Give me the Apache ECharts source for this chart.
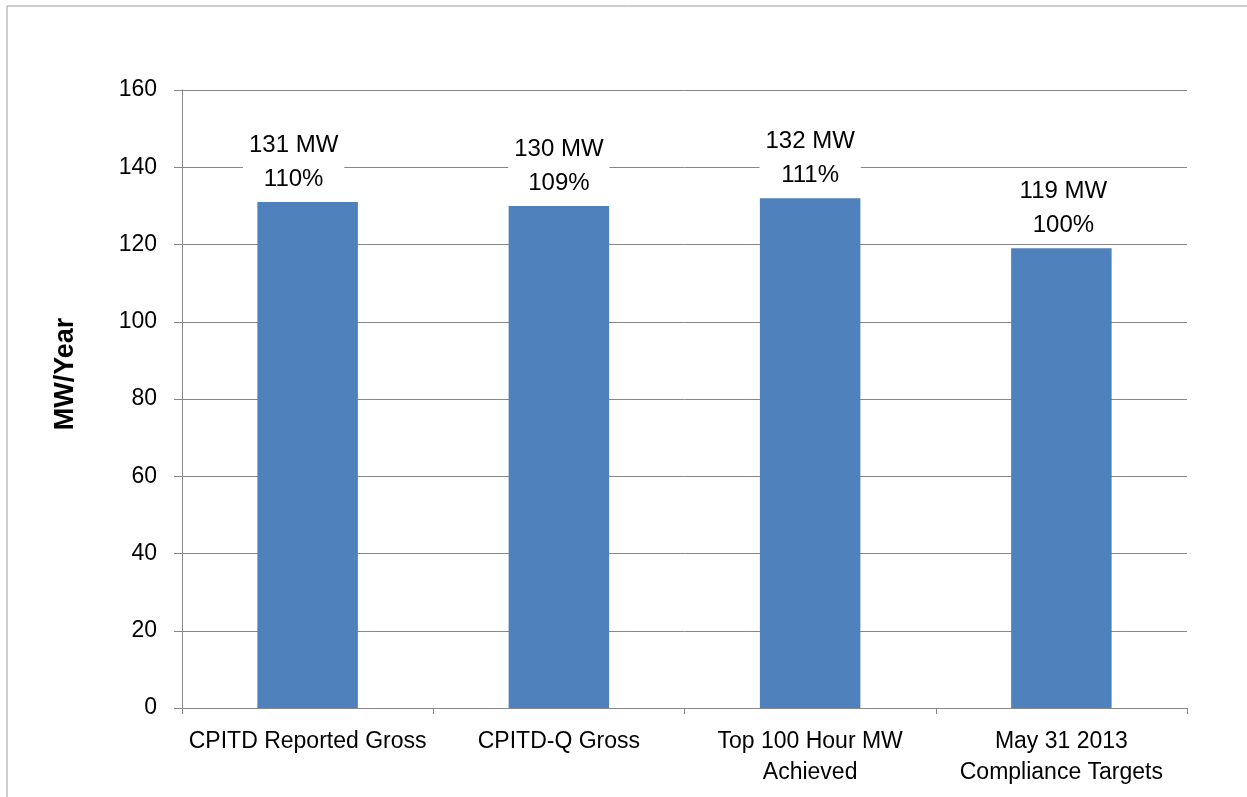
<!DOCTYPE html>
<html>
<head>
<meta charset="utf-8">
<script src="https://cdn.jsdelivr.net/npm/echarts@6/dist/echarts.min.js"></script>
<style>
html,body{margin:0;padding:0;background:#fff;}
#chart{width:1247px;height:797px;}
</style>
</head>
<body>
<div id="chart"></div>
<script>
const categories = ['CPITD Reported Gross', 'CPITD-Q Gross', 'Top 100 Hour MW\nAchieved', 'May 31 2013\nCompliance Targets'];
const valuesMW = [131, 130, 132, 119];
const percentLabels = ['110%', '109%', '111%', '100%'];
const yTicks = { min: 0, max: 160, interval: 20 };
const yTitle = 'MW/Year';

const FONT = '"Liberation Sans", Arial, sans-serif';
const labelOffsets = [[-14, 0], [0, 0], [0, 0], [2, 0]];

const chart = echarts.init(document.getElementById('chart'));
chart.setOption({
  animation: false,
  backgroundColor: '#fff',
  textStyle: { fontFamily: FONT },
  grid: { left: 182, right: 60, top: 90, bottom: 89, containLabel: false },
  xAxis: {
    type: 'category',
    data: categories,
    axisLine: { lineStyle: { color: '#878787', width: 1 } },
    axisTick: { show: true, length: 6, lineStyle: { color: '#878787' } },
    axisLabel: { color: '#000', fontSize: 23, lineHeight: 31, margin: 18, fontFamily: FONT, interval: 0 }
  },
  yAxis: {
    type: 'value',
    min: yTicks.min, max: yTicks.max, interval: yTicks.interval,
    axisLine: { show: true, lineStyle: { color: '#878787', width: 1 } },
    axisTick: { show: true, length: 8, lineStyle: { color: '#878787' } },
    axisLabel: { color: '#000', fontSize: 23, margin: 25, fontFamily: FONT },
    splitLine: { show: true, lineStyle: { color: '#878787', width: 1 } }
  },
  graphic: [
    { type: 'rect', shape: { x: 7, y: 6, width: 1400, height: 1000 }, style: { fill: 'none', stroke: '#9a9a9a', lineWidth: 1 }, silent: true, z: -10 },
    { type: 'text', x: 66, y: 374, rotation: Math.PI / 2,
      style: { text: yTitle, font: 'bold 27px ' + FONT, fill: '#000', textAlign: 'center', textVerticalAlign: 'middle' } }
  ],
  series: [{
    type: 'bar',
    data: valuesMW.map((v, i) => ({
      value: v,
      label: { offset: labelOffsets[i] }
    })),
    barWidth: '40%',
    itemStyle: { color: '#4F81BD' },
    label: {
      show: true,
      position: 'top',
      distance: 6,
      color: '#000',
      fontSize: 24,
      lineHeight: 34,
      fontFamily: FONT,
      backgroundColor: '#fff',
      padding: [0, 6, 0, 6],
      formatter: p => p.value + ' MW\n' + percentLabels[p.dataIndex]
    }
  }]
});
</script>
</body>
</html>
